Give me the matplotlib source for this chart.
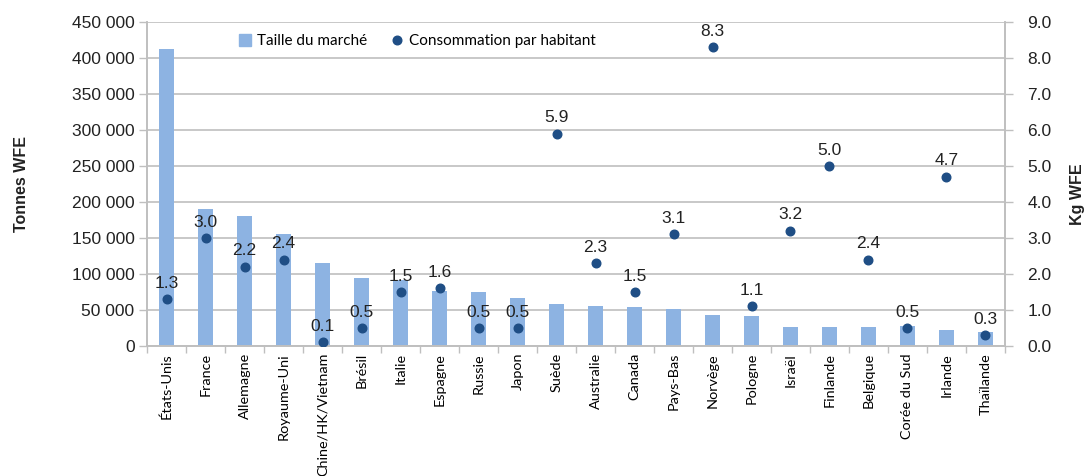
import matplotlib
matplotlib.use("Agg")
import matplotlib.pyplot as plt
import numpy as np
from matplotlib.lines import Line2D
from matplotlib.ticker import FixedLocator, FuncFormatter

countries = ["États-Unis", "France", "Allemagne", "Royaume-Uni", "Chine/HK/Vietnam",
             "Brésil", "Italie", "Espagne", "Russie", "Japon", "Suède", "Australie",
             "Canada", "Pays-Bas", "Norvège", "Pologne", "Israël", "Finlande",
             "Belgique", "Corée du Sud", "Irlande", "Thaïlande"]
market_size = [413000, 190000, 181000, 156000, 115000, 94000, 92000, 77000, 75000,
               66000, 59000, 56000, 54000, 52000, 43000, 41000, 27000, 27000,
               27000, 28000, 22000, 19000]
per_capita = [1.3, 3.0, 2.2, 2.4, 0.1, 0.5, 1.5, 1.6, 0.5, 0.5, 5.9, 2.3, 1.5,
              3.1, 8.3, 1.1, 3.2, 5.0, 2.4, 0.5, 4.7, 0.3]
left_ticks = [0, 50000, 100000, 150000, 200000, 250000, 300000, 350000, 400000, 450000]
right_ticks = [0.0, 1.0, 2.0, 3.0, 4.0, 5.0, 6.0, 7.0, 8.0, 9.0]

bar_color = "#8DB3E2"
dot_color = "#1F4E85"
grid_color = "#BFBFBF"
num_font = "Liberation Sans"
txt_font = "Lato"
num_size = 12.5

fig = plt.figure(figsize=(10.86, 4.76), dpi=100)
ax = fig.add_axes([0.1354, 0.2731, 0.7900, 0.6807])
ax2 = ax.twinx()

x = np.arange(len(countries))
ax.bar(x, market_size, width=0.38, color=bar_color, zorder=2)
ax.set_xlim(-0.5, len(countries) - 0.5)
ax.set_ylim(0, 450000)
ax.yaxis.set_major_locator(FixedLocator(left_ticks))
ax.yaxis.set_major_formatter(FuncFormatter(lambda v, p: f"{int(v):,}".replace(",", " ")))
ax.grid(axis="y", color=grid_color, linewidth=1.2, zorder=0)
ax.set_axisbelow(True)

ax.set_xticks(x)
ax.set_xticklabels(countries, rotation=90, fontfamily=txt_font, fontsize=10.4)
ax.tick_params(axis="x", which="major", length=0, pad=5)
ax.set_xticks(np.arange(-0.5, len(countries), 1), minor=True)
ax.tick_params(axis="x", which="minor", length=5, color=grid_color, width=1)
ax.tick_params(axis="y", length=6, color=grid_color, width=1, labelsize=num_size,
               pad=3, labelcolor="#222222")
for lab in ax.get_yticklabels():
    lab.set_fontfamily(num_font)

for a in (ax, ax2):
    a.spines["top"].set_visible(False)
    for sp in ["left", "right", "bottom"]:
        a.spines[sp].set_color(grid_color)
        a.spines[sp].set_linewidth(1.2)

ax2.plot(x, per_capita, linestyle="none", marker="o", markersize=6.2,
         color=dot_color, zorder=3)
ax2.set_ylim(0, 9)
ax2.yaxis.set_major_locator(FixedLocator(right_ticks))
ax2.yaxis.set_major_formatter(FuncFormatter(lambda v, p: f"{v:.1f}"))
ax2.tick_params(axis="y", length=6, color=grid_color, width=1, labelsize=num_size,
                pad=10, labelcolor="#222222")
for lab in ax2.get_yticklabels():
    lab.set_fontfamily(num_font)

for xi, v in zip(x, per_capita):
    ax2.annotate(f"{v:.1f}", (xi, v), xytext=(0, 6), textcoords="offset points",
                 ha="center", va="bottom", fontsize=num_size, fontfamily=num_font,
                 color="#222222", zorder=4)

ax.set_ylabel("Tonnes WFE", fontfamily=num_font, fontweight="bold", fontsize=11.5,
              color="#222222")
ax.yaxis.set_label_coords(-0.138, 0.5)
ax2.set_ylabel("Kg WFE", fontfamily=num_font, fontweight="bold", fontsize=11.5,
               color="#222222")
ax2.yaxis.set_label_coords(1.0755, 0.47)

handles = [Line2D([], [], linestyle="none", marker="s", markersize=8, color=bar_color),
           Line2D([], [], linestyle="none", marker="o", markersize=6.2, color=dot_color)]
fig.legend(handles, ["Taille du marché", "Consommation par habitant"], ncol=2,
           loc="center", bbox_to_anchor=(0.3835, 0.914), frameon=False,
           prop={"family": txt_font, "size": 11}, handletextpad=0.3,
           columnspacing=1.4, handlelength=1.0)

fig.savefig("out.png", dpi=100)
